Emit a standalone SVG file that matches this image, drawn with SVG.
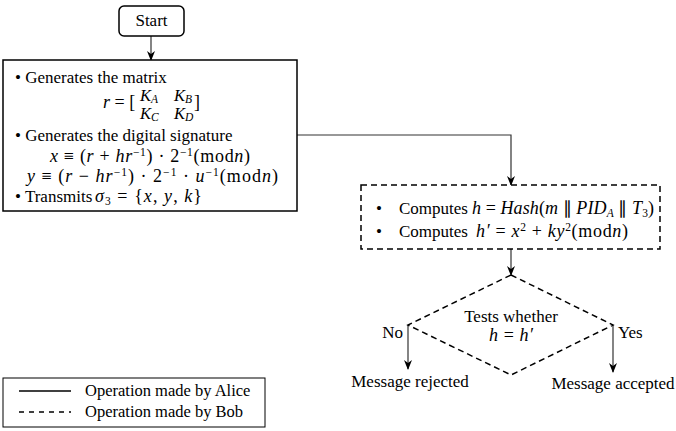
<svg xmlns="http://www.w3.org/2000/svg" width="676" height="431" viewBox="0 0 676 431">
<style>
text{font-family:"Liberation Serif","Times New Roman",serif;font-size:17px;fill:#000}
.m{font-size:18px}
.k{font-size:16.5px}
.i{font-style:italic}
.s{font-size:11.5px}
.solid{fill:#fff;stroke:#000;stroke-width:1.5}
.dash{fill:#fff;stroke:#000;stroke-width:1.5;stroke-dasharray:6 4}
.con{fill:none;stroke:#333;stroke-width:1.2}
.mid{text-anchor:middle}
</style>
<defs>
<marker id="ah" markerWidth="10" markerHeight="10" refX="9" refY="5" orient="auto" markerUnits="userSpaceOnUse">
<path d="M0,1 L10,5 L0,9 L3,5 Z" fill="#000"/>
</marker>
</defs>
<rect width="676" height="431" fill="#fff"/>
<g id="connectors">
<path class="con" d="M151,36 V60" marker-end="url(#ah)"/>
<path class="con" d="M297,135 H511 V185" marker-end="url(#ah)"/>
<path class="con" d="M511,249 V275" marker-end="url(#ah)"/>
<path class="con" d="M408,325 V369" marker-end="url(#ah)"/>
<path class="con" d="M613,325 V372" stroke="#777" marker-end="url(#ah)"/>
<text x="403" y="338" text-anchor="end">No</text>
<text x="618" y="338">Yes</text>
</g>
<g id="start">
<rect class="solid" x="119" y="6" width="65" height="30" rx="5"/>
<text class="mid" x="151.5" y="26">Start</text>
</g>
<g id="alice">
<rect class="solid" x="3" y="60" width="294" height="151"/>
<text x="15" y="83">• Generates the matrix</text>
<text class="m" x="103" y="108"><tspan class="i">r</tspan> = [</text>
<text class="k" x="140" y="101"><tspan class="i">K</tspan><tspan class="s i" dy="2">A</tspan></text>
<text class="k" x="174" y="101"><tspan class="i">K</tspan><tspan class="s i" dy="2">B</tspan></text>
<text class="k" x="140" y="119"><tspan class="i">K</tspan><tspan class="s i" dy="2">C</tspan></text>
<text class="k" x="174" y="119"><tspan class="i">K</tspan><tspan class="s i" dy="2">D</tspan></text>
<text class="m" x="194" y="108">]</text>
<text x="15" y="141">• Generates the digital signature</text>
<text class="m" x="50" y="162" textLength="200" lengthAdjust="spacing"><tspan class="i">x</tspan> ≡ (<tspan class="i">r</tspan> + <tspan class="i">hr</tspan><tspan class="s" dy="-6">−1</tspan><tspan dy="6">) · 2</tspan><tspan class="s" dy="-6">−1</tspan><tspan dy="6">(mod</tspan><tspan class="i">n</tspan>)</text>
<text class="m" x="27" y="182" textLength="251" lengthAdjust="spacing"><tspan class="i">y</tspan> ≡ (<tspan class="i">r</tspan> − <tspan class="i">hr</tspan><tspan class="s" dy="-6">−1</tspan><tspan dy="6">) · 2</tspan><tspan class="s" dy="-6">−1</tspan><tspan dy="6"> · </tspan><tspan class="i">u</tspan><tspan class="s" dy="-6">−1</tspan><tspan dy="6">(mod</tspan><tspan class="i">n</tspan>)</text>
<text x="15" y="202">• Transmits</text>
<text class="m" x="95" y="202" textLength="107" lengthAdjust="spacing"><tspan class="i">σ</tspan><tspan class="s" dy="3">3</tspan><tspan dy="-3"> = {</tspan><tspan class="i">x</tspan>, <tspan class="i">y</tspan>, <tspan class="i">k</tspan>}</text>
</g>
<g id="bob">
<rect class="dash" x="361" y="185" width="299" height="64"/>
<text x="376" y="214">•</text>
<text x="399" y="214">Computes</text>
<text class="m" x="472" y="214" textLength="182" lengthAdjust="spacing"><tspan class="i">h</tspan> = <tspan class="i">Hash</tspan>(<tspan class="i">m</tspan> ∥ <tspan class="i">PID</tspan><tspan class="s i" dy="3">A</tspan><tspan dy="-3"> ∥ </tspan><tspan class="i">T</tspan><tspan class="s" dy="3">3</tspan><tspan dy="-3">)</tspan></text>
<text x="376" y="237">•</text>
<text x="399" y="237">Computes</text>
<text class="m" x="476" y="237" textLength="152" lengthAdjust="spacing"><tspan class="i">h′</tspan> = <tspan class="i">x</tspan><tspan class="s" dy="-6">2</tspan><tspan dy="6"> + </tspan><tspan class="i">ky</tspan><tspan class="s" dy="-6">2</tspan><tspan dy="6">(mod</tspan><tspan class="i">n</tspan>)</text>
</g>
<g id="test">
<path class="dash" d="M511,275 L613,325 L511,375 L408,325 Z"/>
<text class="mid" x="511" y="322">Tests whether</text>
<text class="m" x="489" y="341" textLength="44" lengthAdjust="spacing"><tspan class="i">h</tspan> = <tspan class="i">h′</tspan></text>
</g>
<g id="rejected">
<text class="mid" x="410" y="387">Message rejected</text>
</g>
<g id="accepted">
<text class="mid" x="613" y="389">Message accepted</text>
</g>
<g id="legend">
<rect x="3" y="378" width="262" height="49" fill="#fff" stroke="#000" stroke-width="1"/>
<line x1="19" y1="391" x2="71" y2="391" stroke="#000" stroke-width="1.5"/>
<line x1="19" y1="412" x2="71" y2="412" stroke="#000" stroke-width="1.5" stroke-dasharray="5 5"/>
<text x="85" y="396" style="font-size:16.5px">Operation made by Alice</text>
<text x="85" y="417" style="font-size:16.5px">Operation made by Bob</text>
</g>
</svg>
